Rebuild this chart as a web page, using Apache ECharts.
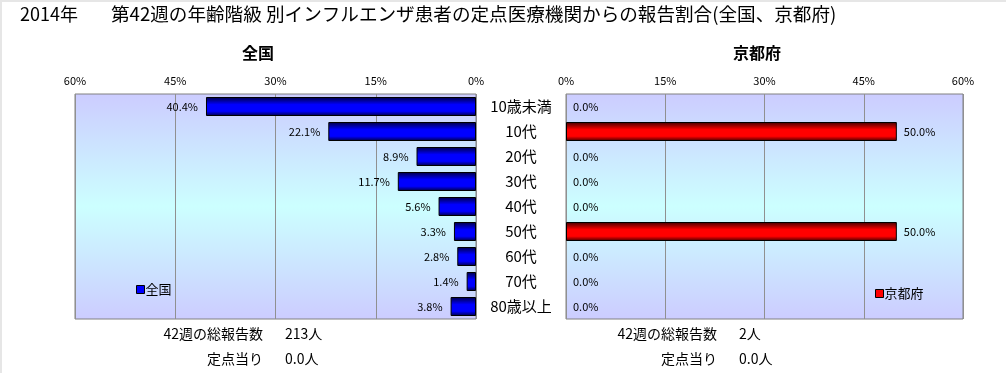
<!DOCTYPE html>
<html>
<head>
<meta charset="utf-8">
<script src="https://cdn.jsdelivr.net/npm/echarts@6/dist/echarts.min.js"></script>
<style>
html,body{margin:0;padding:0;background:#fff;}
#c{width:1006px;height:373px;}
</style>
</head>
<body>
<div id="c"></div>
<script>
const categories = ['10歳未満','10代','20代','30代','40代','50代','60代','70代','80歳以上'];
const nationalValues = [40.4, 22.1, 8.9, 11.7, 5.6, 3.3, 2.8, 1.4, 3.8];
const kyotoValues = [0.0, 50.0, 0.0, 0.0, 0.0, 50.0, 0.0, 0.0, 0.0];
const axisMax = 60;
const axisInterval = 15;
const titleYear = '2014年';
const titleText = '第42週の年齢階級 別インフルエンザ患者の定点医療機関からの報告割合(全国、京都府)';
const panelTitles = ['全国', '京都府'];
const summaryLeft = [['42週の総報告数', '213人'], ['定点当り', '0.0人']];
const summaryRight = [['42週の総報告数', '2人'], ['定点当り', '0.0人']];

const FONT = '"Noto Sans CJK JP", "Noto Sans", sans-serif';
const bgGrad = {type:'linear', x:0, y:0, x2:0, y2:1, colorStops:[
  {offset:0, color:'#ccccff'},{offset:0.5, color:'#ccffff'},{offset:1, color:'#ccccff'}]};
function barGrad(dark, bright){
  return {type:'linear', x:0, y:0, x2:0, y2:1, colorStops:[
    {offset:0, color:dark},{offset:0.4, color:bright},{offset:0.75, color:bright},{offset:1, color:dark}]};
}
function styledData(values){
  return values.map(v => v === 0 ? {value:v, itemStyle:{borderWidth:0}} : v);
}
const chart = echarts.init(document.getElementById('c'));
const g = [];
function addSummary(rows, rightX){
  rows.forEach((r, i) => {
    g.push({type:'text', right: 1006 - rightX, top: 327 + i*25, style:{text:r[0], font:'14px ' + FONT, fill:'#000', textAlign:'right'}});
    g.push({type:'text', left: rightX + 22, top: 327 + i*25, style:{text:r[1], font:'14px ' + FONT, fill:'#000'}});
  });
}
addSummary(summaryLeft, 263);
addSummary(summaryRight, 717);
g.push({type:'rect', left:0, top:0, shape:{width:1006, height:2}, style:{fill:'#e6e6e6'}, silent:true});
g.push({type:'rect', left:0, top:0, shape:{width:2, height:373}, style:{fill:'#e6e6e6'}, silent:true});

const option = {
  backgroundColor:'#fff',
  animation:false,
  textStyle:{fontFamily:FONT},
  title:[
    {text:titleYear, left:15, top:0, textStyle:{fontSize:18, fontWeight:'normal', color:'#000', fontFamily:FONT}},
    {text:titleText, left:106, top:0, textStyle:{fontSize:18.6, fontWeight:'normal', color:'#000', fontFamily:FONT}},
    {text:panelTitles[0], left:253, top:40, textAlign:'center', textStyle:{fontSize:16, fontWeight:'bold', color:'#000', fontFamily:FONT}},
    {text:panelTitles[1], left:752, top:40, textAlign:'center', textStyle:{fontSize:16, fontWeight:'bold', color:'#000', fontFamily:FONT}}
  ],
  legend:[
    {data:[panelTitles[0]], left:131, top:278, itemWidth:8, itemHeight:8, itemGap:2, icon:'rect',
     textStyle:{fontSize:13, color:'#000', fontFamily:FONT, padding:[0,0,0,-4]},
     itemStyle:{color:'#0000ff', borderColor:'#000', borderWidth:1}},
    {data:[panelTitles[1]], left:870, top:282, itemWidth:8, itemHeight:8, itemGap:2, icon:'rect',
     textStyle:{fontSize:13, color:'#000', fontFamily:FONT, padding:[0,0,0,-4]},
     itemStyle:{color:'#ff0000', borderColor:'#000', borderWidth:1}}
  ],
  grid:[
    {left:75, top:94, width:401, height:225, show:true, backgroundColor:bgGrad, borderColor:'#808080', borderWidth:1},
    {left:566, top:94, width:397, height:225, show:true, backgroundColor:bgGrad, borderColor:'#808080', borderWidth:1}
  ],
  xAxis:[
    {gridIndex:0, type:'value', position:'top', inverse:true, min:0, max:axisMax, interval:axisInterval,
     axisLine:{show:false}, axisTick:{show:false},
     axisLabel:{formatter:'{value}%', fontSize:11, color:'#000', margin:8, fontFamily:FONT},
     splitLine:{show:true, lineStyle:{color:'#909090', width:1}}},
    {gridIndex:1, type:'value', position:'top', min:0, max:axisMax, interval:axisInterval,
     axisLine:{show:false}, axisTick:{show:false},
     axisLabel:{formatter:'{value}%', fontSize:11, color:'#000', margin:8, fontFamily:FONT},
     splitLine:{show:true, lineStyle:{color:'#909090', width:1}}}
  ],
  yAxis:[
    {gridIndex:0, type:'category', data:categories, inverse:true, position:'right',
     axisLine:{show:false}, axisTick:{show:false},
     axisLabel:{align:'center', margin:45, fontSize:15, color:'#000', fontFamily:FONT, padding:[4,0,0,0]}},
    {gridIndex:1, type:'category', data:categories, inverse:true,
     axisLine:{show:false}, axisTick:{show:false}, axisLabel:{show:false}}
  ],
  series:[
    {name:panelTitles[0], type:'bar', xAxisIndex:0, yAxisIndex:0, data:styledData(nationalValues), barWidth:19,
     itemStyle:{color:barGrad('#000040','#0000ff'), borderColor:'#000', borderWidth:1},
     label:{show:true, position:'left', distance:8, formatter:p => p.value.toFixed(1) + '%', fontSize:11, color:'#000', fontFamily:FONT}},
    {name:panelTitles[1], type:'bar', xAxisIndex:1, yAxisIndex:1, data:styledData(kyotoValues), barWidth:19,
     itemStyle:{color:barGrad('#400000','#ff0000'), borderColor:'#000', borderWidth:1},
     label:{show:true, position:'right', distance:7, formatter:p => p.value.toFixed(1) + '%', fontSize:11, color:'#000', fontFamily:FONT}}
  ],
  graphic:g
};
chart.setOption(option);
</script>
</body>
</html>
